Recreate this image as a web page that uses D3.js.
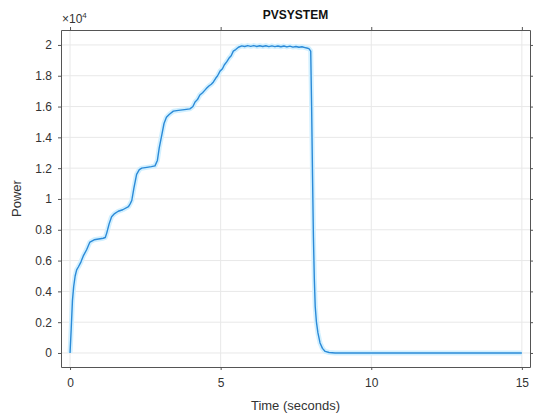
<!DOCTYPE html>
<html>
<head>
<meta charset="utf-8">
<script src="https://cdn.jsdelivr.net/npm/d3@7"></script>
<style>
	body { margin: 0; background: #fff; }
	text { font-family: "Liberation Sans", Arial, sans-serif; }
</style>
</head>
<body>
<div id="chart"></div>
<script>
// time in seconds, power in units of 10^4
let timeValues = [
	0, 0.04, 0.08, 0.12, 0.17, 0.22, 0.28, 0.36, 0.44, 0.55, 0.66, 0.8, 0.95, 1.1, 1.17, 1.22, 1.3, 1.38, 1.48, 1.6, 1.75, 1.94, 2.0, 2.05, 2.12, 2.21, 2.3, 2.38, 2.55, 2.7, 2.82, 2.9, 2.96, 3.05, 3.12, 3.2, 3.3, 3.43, 3.6, 3.8, 3.98, 4.08, 4.15, 4.23, 4.31, 4.4, 4.47, 4.54, 4.62, 4.69, 4.76, 4.84, 4.9, 4.98, 5.06, 5.12, 5.2, 5.28, 5.35, 5.42, 5.5, 5.59,
	5.7, 5.8, 5.9, 6.0, 6.1, 6.2, 6.3, 6.4, 6.5, 6.6, 6.7, 6.8, 6.9, 7.0, 7.1, 7.2, 7.3, 7.4, 7.5, 7.6, 7.7, 7.8, 7.86, 7.93, 7.99,
	8.02, 8.05, 8.08, 8.11, 8.14, 8.18, 8.23, 8.3, 8.38, 8.47, 8.6, 8.8, 9.2, 10, 11, 12, 13, 14, 15
];
let powerValues = [
	0, 0.16, 0.34, 0.43, 0.5, 0.54, 0.56, 0.59, 0.63, 0.67, 0.72, 0.735, 0.74, 0.745, 0.75, 0.78, 0.84, 0.885, 0.905, 0.92, 0.93, 0.95, 0.97, 0.99, 1.07, 1.16, 1.19, 1.2, 1.205, 1.21, 1.215, 1.25, 1.33, 1.42, 1.49, 1.53, 1.55, 1.57, 1.575, 1.58, 1.585, 1.6, 1.63, 1.645, 1.675, 1.69, 1.705, 1.72, 1.735, 1.745, 1.76, 1.785, 1.8, 1.83, 1.845, 1.87, 1.89, 1.915, 1.93, 1.96, 1.97, 1.985,
	1.994, 1.99, 1.996, 1.991, 1.996, 1.99, 1.995, 1.99, 1.995, 1.989, 1.994, 1.989, 1.993, 1.988, 1.993, 1.987, 1.992, 1.986, 1.99, 1.985, 1.988, 1.983, 1.98, 1.976, 1.96,
	1.6, 1.15, 0.75, 0.48, 0.3, 0.2, 0.13, 0.065, 0.03, 0.01, 0.003, 0, 0, 0, 0, 0, 0, 0, 0
];
let xTicks = [0, 5, 10, 15];
let yTicks = [0, 0.2, 0.4, 0.6, 0.8, 1, 1.2, 1.4, 1.6, 1.8, 2];

let data = timeValues.map((t, i) => ({ t: t, p: powerValues[i] }));

let width = 534;
let height = 417;
let margin = { top: 30, right: 4, bottom: 50, left: 61 };

let xScale = d3.scaleLinear()
	.domain([-0.3, 15.27])
	.range([margin.left, width - margin.right]);

let yScale = d3.scaleLinear()
	.domain([-0.091, 2.097])
	.range([height - margin.bottom, margin.top]);

let svg = d3.select('#chart')
	.append('svg')
	.attr('width', width)
	.attr('height', height);

// Grid
svg.append("g")
	.selectAll("line")
	.data(xTicks)
	.enter()
	.append("line")
	.attr("x1", d => xScale(d))
	.attr("x2", d => xScale(d))
	.attr("y1", margin.top)
	.attr("y2", height - margin.bottom)
	.style("stroke", "#e8e8e8");

svg.append("g")
	.selectAll("line")
	.data(yTicks)
	.enter()
	.append("line")
	.attr("x1", margin.left)
	.attr("x2", width - margin.right)
	.attr("y1", d => yScale(d))
	.attr("y2", d => yScale(d))
	.style("stroke", "#e8e8e8");

// Line
let line = d3.line()
	.x(d => xScale(d.t))
	.y(d => yScale(d.p));

svg.append("path")
	.datum(data)
	.attr("d", line)
	.style("fill", "none")
	.style("stroke", "#d2f0ff")
	.style("stroke-width", 5)
	.style("stroke-linejoin", "round");

svg.append("path")
	.datum(data)
	.attr("d", line)
	.style("fill", "none")
	.style("stroke", "#2b8ad8")
	.style("stroke-width", 1.4)
	.style("stroke-linejoin", "round");

// Axes
let axisColor = "#555";

let xAxis = svg.append("g")
	.attr("transform", "translate(0," + (height - margin.bottom) + ")")
	.call(d3.axisBottom(xScale).tickValues(xTicks).tickSize(3).tickPadding(8).tickSizeOuter(0));

let xAxisTop = svg.append("g")
	.attr("transform", "translate(0," + margin.top + ")")
	.call(d3.axisTop(xScale).tickValues(xTicks).tickSize(3).tickFormat("").tickSizeOuter(0));

let yAxis = svg.append("g")
	.attr("transform", "translate(" + margin.left + ",0)")
	.call(d3.axisLeft(yScale).tickValues(yTicks).tickFormat(d3.format("~g")).tickSize(3).tickPadding(6).tickSizeOuter(0));

let yAxisRight = svg.append("g")
	.attr("transform", "translate(" + (width - margin.right) + ",0)")
	.call(d3.axisRight(yScale).tickValues(yTicks).tickSize(3).tickFormat("").tickSizeOuter(0));

[xAxis, xAxisTop, yAxis, yAxisRight].forEach(g => {
	g.selectAll("path, line").style("stroke", axisColor);
	g.selectAll("text")
		.style("fill", "#333")
		.style("font-size", "12px")
		.style("font-family", "'Liberation Sans', Arial, sans-serif");
});

// Title
svg.append("text")
	.attr("x", (margin.left + width - margin.right) / 2)
	.attr("y", 19)
	.style("text-anchor", "middle")
	.style("font-weight", "bold")
	.style("font-size", "12px")
	.style("fill", "#111")
	.text("PVSYSTEM");

// Exponent label
let expLabel = svg.append("text")
	.attr("x", margin.left + 1)
	.attr("y", 23)
	.style("font-size", "12px")
	.style("fill", "#333");
expLabel.append("tspan").text("\u00d710");
expLabel.append("tspan").attr("dy", -5).style("font-size", "8px").text("4");

// X-axis label
svg.append("text")
	.attr("x", (margin.left + width - margin.right) / 2)
	.attr("y", 410)
	.style("text-anchor", "middle")
	.style("font-size", "13px")
	.style("fill", "#333")
	.text("Time (seconds)");

// Y-axis label
svg.append("text")
	.attr("transform", "rotate(-90)")
	.attr("x", -((margin.top + height - margin.bottom) / 2))
	.attr("y", 21)
	.style("text-anchor", "middle")
	.style("font-size", "13px")
	.style("fill", "#333")
	.text("Power");
</script>
</body>
</html>
